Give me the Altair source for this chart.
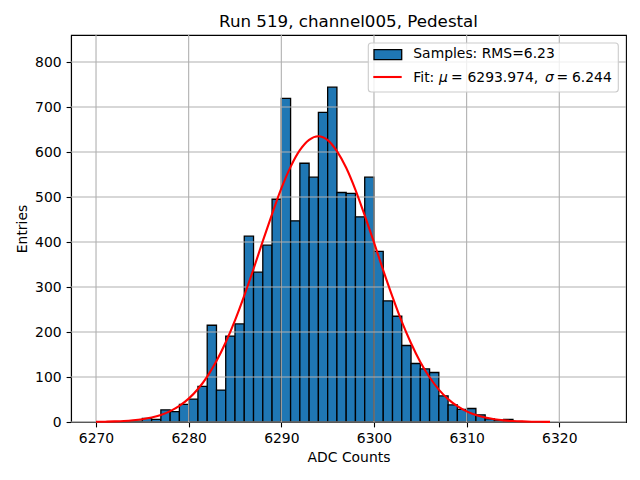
import altair as alt
import pandas as pd

# ---- data ----
bin_left = list(range(6273, 6316))
counts = [1, 2, 8, 6, 27, 23, 39, 51, 79, 215, 71, 191, 218, 413, 333, 393, 495,
          719, 447, 575, 544, 688, 744, 510, 508, 456, 544, 379, 269, 235, 170,
          130, 118, 110, 58, 38, 28, 30, 16, 7, 4, 6, 1]

fit_x = list(range(6270, 6320))
fit_y = [0.4, 0.7, 1.3, 2.2, 3.8, 6.3, 10.1, 15.8, 24.1, 35.8, 51.9, 73.3, 101,
         135.5, 177.3, 226, 281, 340, 402, 462, 519, 567, 604, 627, 635, 626.5,
         602, 565, 516, 459, 399, 337, 278, 223, 175, 133.5, 99.4, 72.1, 50.9,
         35.1, 23.6, 15.4, 9.8, 6.1, 3.7, 2.2, 1.3, 0.7, 0.4, 0.2]

x_ticks = [6270, 6280, 6290, 6300, 6310, 6320]
y_ticks = [0, 100, 200, 300, 400, 500, 600, 700, 800]

title = "Run 519, channel005, Pedestal"
x_title = "ADC Counts"
y_title = "Entries"
legend_samples = "Samples: RMS=6.23"
legend_fit_parts = ["Fit:", "μ", "=", "6293.974,", "σ", "=", "6.244"]

# ---- tables ----
hist = pd.DataFrame({"x": bin_left, "x2": [b + 1 for b in bin_left], "n": counts})
fit = pd.DataFrame({"x": fit_x, "y": fit_y})
xt = pd.DataFrame({"v": x_ticks})
yt = pd.DataFrame({"v": y_ticks})
one = pd.DataFrame({"k": [0]})

FONT = "DejaVu Sans"
FS = 13.9
xs = alt.Scale(domain=[6267.3, 6327.2], nice=False, zero=False)
ys = alt.Scale(domain=[0, 860], nice=False, zero=False)
xa = alt.Axis(values=x_ticks, title=x_title, format="d", grid=False, tickSize=4.9,
              labelPadding=5, titlePadding=5)
ya = alt.Axis(values=y_ticks, title=y_title, format="d", grid=False, tickSize=4.9,
              labelPadding=5, titlePadding=5)

bars = alt.Chart(hist).mark_rect(fill="#1f77b4", stroke="black", strokeWidth=1.3).encode(
    x=alt.X("x:Q", scale=xs, axis=xa),
    x2="x2:Q",
    y=alt.Y("n:Q", scale=ys, axis=ya),
    y2=alt.datum(0),
)

xgrid = alt.Chart(xt).mark_rule(color="#b0b0b0", strokeWidth=1.1).encode(
    x=alt.X("v:Q", scale=xs, axis=xa))
ygrid = alt.Chart(yt).mark_rule(color="#b0b0b0", strokeWidth=1.1).encode(
    y=alt.Y("v:Q", scale=ys, axis=ya))

line = alt.Chart(fit).mark_line(color="red", strokeWidth=2.1, interpolate="monotone").encode(
    x=alt.X("x:Q", scale=xs, axis=xa),
    y=alt.Y("y:Q", scale=ys, axis=ya),
)

# legend (styled box in the upper right)
box = alt.Chart(one).mark_rect(fill="white", fillOpacity=0.8, stroke="#cccccc",
                               strokeWidth=1.1, cornerRadius=3).encode(
    x=alt.value(297.3), x2=alt.value(547.3), y=alt.value(8), y2=alt.value(57))
patch = alt.Chart(one).mark_rect(fill="#1f77b4", stroke="black", strokeWidth=1.3).encode(
    x=alt.value(303), x2=alt.value(330.7), y=alt.value(14.7), y2=alt.value(24.7))
lline = alt.Chart(one).mark_rule(color="red", strokeWidth=2.1).encode(
    x=alt.value(302.3), x2=alt.value(330.7), y=alt.value(42))
t1 = alt.Chart(one).mark_text(text=legend_samples, font=FONT, fontSize=FS, align="left",
                              baseline="middle", color="black").encode(
    x=alt.value(342.3), y=alt.value(19))
fit_pos = [342.3, 368, 380, 396.5, 474, 485.5, 501]
fit_style = ["normal", "italic", "normal", "normal", "italic", "normal", "normal"]
fit_texts = [
    alt.Chart(one).mark_text(text=t, font=FONT, fontSize=FS, align="left",
                             baseline="middle", color="black", fontStyle=s).encode(
        x=alt.value(p), y=alt.value(43))
    for t, p, s in zip(legend_fit_parts, fit_pos, fit_style)
]

chart = alt.layer(bars, xgrid, ygrid, line, box, patch, lline, t1, *fit_texts).properties(
    width=555, height=387,
    title=alt.TitleParams(title, font=FONT, fontSize=16.7, fontWeight="normal",
                          anchor="middle", offset=4, color="black"),
    autosize=alt.AutoSizeParams(type="none"),
    padding={"left": 63, "top": 27, "right": 6, "bottom": 50},
).configure_axis(
    labelFont=FONT, labelFontSize=FS, labelColor="black",
    titleFont=FONT, titleFontSize=FS, titleColor="black", titleFontWeight="normal",
    domainColor="black", domainWidth=1.1, tickColor="black", tickWidth=1.1,
).configure_view(stroke="black", strokeWidth=1.1)

chart.save("out.html", embed_options={"renderer": "svg", "actions": False})
